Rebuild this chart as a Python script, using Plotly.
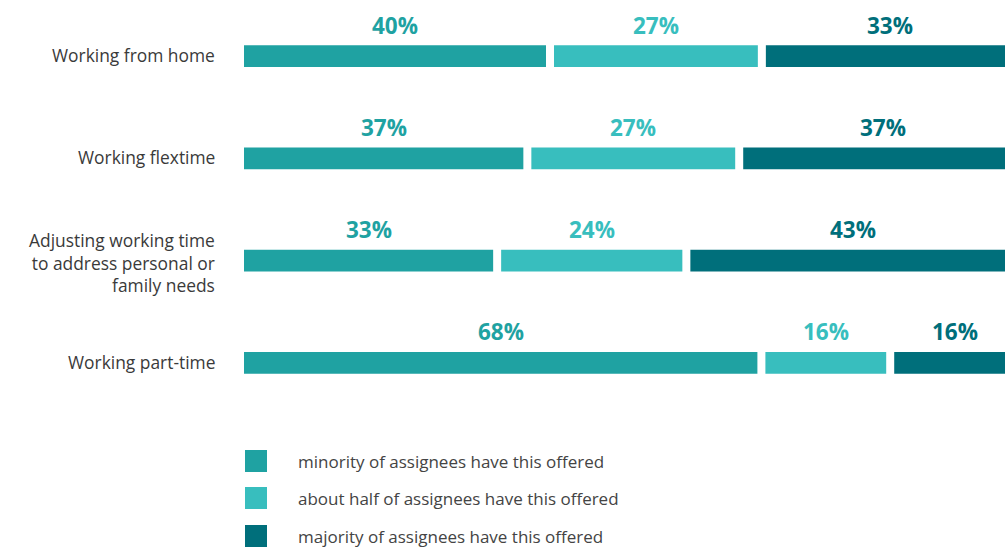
import plotly.graph_objects as go

# Survey data: share of companies by how widely each arrangement is offered
categories = [
    "Working from home",
    "Working flextime",
    "Adjusting working time<br>to address personal or<br>family needs",
    "Working part-time",
]
series_names = [
    "minority of assignees have this offered",
    "about half of assignees have this offered",
    "majority of assignees have this offered",
]
minority = [40, 37, 33, 68]
about_half = [27, 27, 24, 16]
majority = [33, 37, 43, 16]

colors = ["#1FA2A2", "#38BEBE", "#006F7B"]
GAP = 1.06  # white gap between consecutive segments, in axis units

values = [minority, about_half, majority]

fig = go.Figure()
annotations = []
for si, (name, vals, col) in enumerate(zip(series_names, values, colors)):
    bases = []
    for ci, v in enumerate(vals):
        start = sum(values[k][ci] for k in range(si)) + si * GAP
        bases.append(start)
        annotations.append(dict(
            x=start + v / 2, y=categories[ci], xref="x", yref="y",
            text=f"<b>{v}%</b>", showarrow=False, yshift=31,
            font=dict(family="Open Sans", size=22.5, color=col),
        ))
    fig.add_trace(go.Bar(
        y=categories, x=vals, base=bases, orientation="h",
        name=name, marker=dict(color=col, line=dict(width=0)),
        width=0.215, showlegend=False, hoverinfo="skip",
    ))

# Category labels, right-aligned left of the bars
for cat in categories:
    multi = "<br>" in cat
    annotations.append(dict(
        x=-27 / 761, y=cat, xref="paper", yref="y", text=cat,
        showarrow=False, xanchor="right", yanchor="middle", align="right",
        yshift=-2 if multi else 1,
        font=dict(family="Open Sans", size=17.4, color="#3A3A3A"),
    ))

# Legend drawn as squares with labels under the plot area
legend_y = [461, 498, 536]
plot_top, plot_h = 5, 409
for name, col, py in zip(series_names, colors, legend_y):
    yc = (plot_top + plot_h - py) / plot_h
    half = 11 / plot_h
    fig.add_shape(type="rect", xref="paper", yref="paper",
                  x0=1 / 761, x1=23 / 761, y0=yc - half, y1=yc + half,
                  fillcolor=col, line=dict(width=0))
    annotations.append(dict(
        x=52 / 761, y=yc, xref="paper", yref="paper", text=name,
        showarrow=False, xanchor="left", yanchor="middle",
        font=dict(family="Open Sans", size=17, color="#444444"),
    ))

fig.update_layout(
    width=1005, height=549,
    margin=dict(l=244, r=0, t=plot_top, b=549 - plot_top - plot_h),
    plot_bgcolor="white", paper_bgcolor="white",
    barmode="overlay",
    annotations=annotations,
    xaxis=dict(range=[0, 761 / 7.55], visible=False, fixedrange=True),
    yaxis=dict(
        categoryorder="array", categoryarray=categories,
        autorange="reversed", showgrid=False, zeroline=False,
        showline=False, ticks="", showticklabels=False,
        fixedrange=True,
    ),
    font=dict(family="Open Sans"),
)

fig.write_html("out.html")
